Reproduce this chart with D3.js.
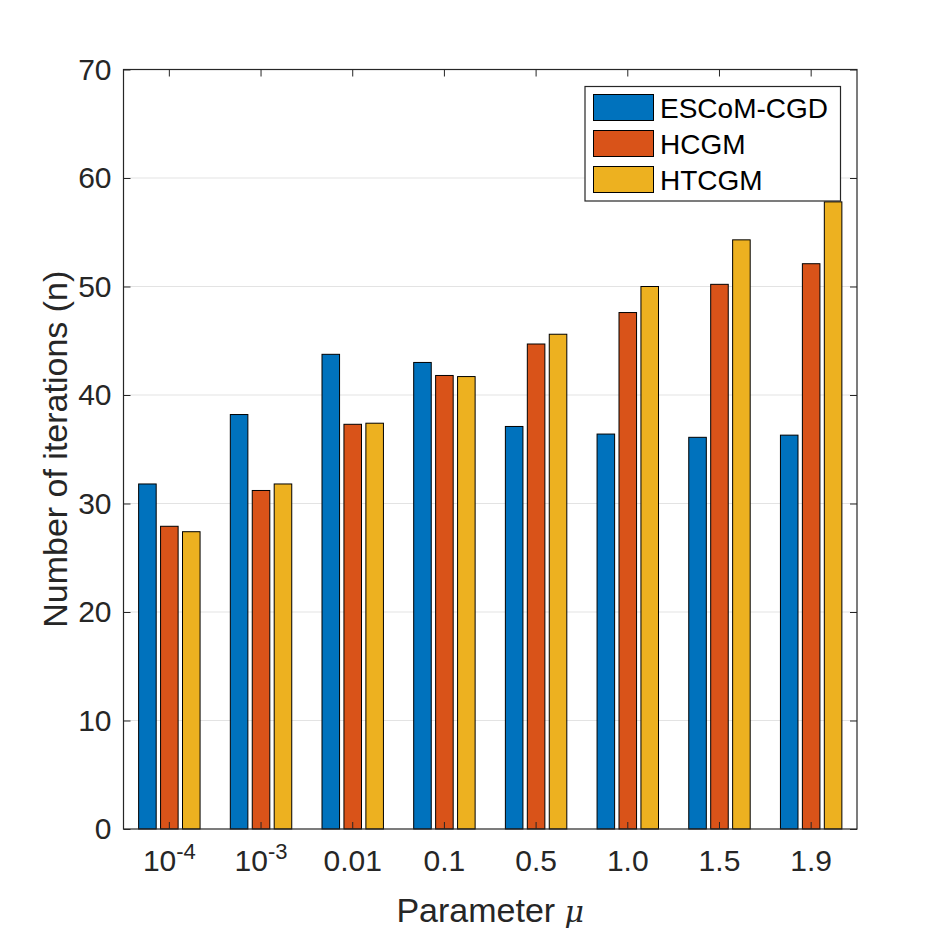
<!DOCTYPE html>
<html><head><meta charset="utf-8">
<script src="https://cdn.jsdelivr.net/npm/d3@7"></script>
<style>body{margin:0;background:#fff}</style>
</head><body>
<script>
const categories = ["1e-4","1e-3","0.01","0.1","0.5","1.0","1.5","1.9"];
const seriesNames = ["ESCoM-CGD","HCGM","HTCGM"];
const escom = [31.8, 38.2, 43.75, 43.0, 37.1, 36.4, 36.1, 36.3];
const hcgm  = [27.9, 31.2, 37.3, 41.8, 44.7, 47.6, 50.2, 52.1];
const htcgm = [27.4, 31.8, 37.4, 41.7, 45.6, 50.0, 54.3, 57.8];
const yTicks = [0,10,20,30,40,50,60,70];
const colors = ["#0072BD","#D95319","#EDB120"];
const seriesValues = [escom, hcgm, htcgm];

const W=946,H=932;
const L=123.5,R=857,T=69.5,B=829;
const font='"Liberation Sans", Arial, Helvetica, sans-serif';
const ink='#262626';

const svg=d3.select('body').append('svg').attr('width',W).attr('height',H);
const x=d3.scaleBand().domain(categories).range([L,R]).paddingInner(0).paddingOuter(0);
const xs=d3.scaleBand().domain(seriesNames).range([0,x.bandwidth()*0.67]).paddingInner(0.2);
const y=d3.scaleLinear().domain([0,70]).range([B,T]);

// grid
svg.append('g').selectAll('line').data(yTicks.filter(d=>d>0&&d<70)).join('line')
 .attr('x1',L).attr('x2',R).attr('y1',d=>y(d)).attr('y2',d=>y(d))
 .attr('stroke','#e3e3e3').attr('stroke-width',1);

// bars
const groupW=x.bandwidth()*0.67;
const data=[];
categories.forEach((c,i)=>seriesNames.forEach((s,j)=>data.push({c,s,j,v:seriesValues[j][i]})));
svg.append('g').selectAll('rect').data(data).join('rect')
 .attr('x',d=>x(d.c)+x.bandwidth()/2-groupW/2+xs(d.s))
 .attr('width',xs.bandwidth())
 .attr('y',d=>y(d.v)).attr('height',d=>y(0)-y(d.v))
 .attr('fill',d=>colors[d.j]).attr('stroke','#000').attr('stroke-width',1);

// axes frame
svg.append('rect').attr('x',L).attr('y',T).attr('width',R-L).attr('height',B-T)
 .attr('fill','none').attr('stroke',ink).attr('stroke-width',1.2);

// y ticks
const yAxisL=d3.axisLeft(y).tickValues(yTicks).tickSize(-7).tickPadding(12);
const gy=svg.append('g').attr('transform',`translate(${L},0)`).call(yAxisL);
gy.select('.domain').remove();
gy.selectAll('line').attr('stroke',ink);
gy.selectAll('text').attr('font-family',font).attr('font-size',30).attr('fill',ink);
const gyR=svg.append('g').attr('transform',`translate(${R},0)`).call(d3.axisRight(y).tickValues(yTicks).tickSize(-7).tickFormat(''));
gyR.select('.domain').remove();
gyR.selectAll('line').attr('stroke',ink);

// x ticks
const gx=svg.append('g').attr('transform',`translate(0,${B})`).call(d3.axisBottom(x).tickSize(-7).tickFormat(''));
gx.select('.domain').remove();
gx.selectAll('line').attr('stroke',ink);
const gxT=svg.append('g').attr('transform',`translate(0,${T})`).call(d3.axisTop(x).tickSize(-7).tickFormat(''));
gxT.select('.domain').remove();
gxT.selectAll('line').attr('stroke',ink);

// x tick labels
const xl=svg.append('g');
categories.forEach(c=>{
  const t=xl.append('text').attr('x',x(c)+x.bandwidth()/2).attr('y',B+42)
   .attr('text-anchor','middle').attr('font-family',font).attr('font-size',30).attr('fill',ink);
  if(c.startsWith('1e')){
    t.append('tspan').text('10');
    t.append('tspan').attr('font-size',22).attr('dy',-12).text(c.slice(2));
  } else t.text(c);
});

// axis labels
const xlab=svg.append('text').attr('x',(L+R)/2).attr('y',922).attr('text-anchor','middle')
 .attr('font-family',font).attr('font-size',34).attr('fill',ink);
xlab.append('tspan').text('Parameter ');
xlab.append('tspan').attr('font-family','"DejaVu Serif", serif').attr('font-style','italic').attr('font-size',30).text('μ');
svg.append('text').attr('transform',`translate(67,${(T+B)/2}) rotate(-90)`).attr('text-anchor','middle')
 .attr('font-family',font).attr('font-size',34).attr('fill',ink).text('Number of iterations (n)');

// legend
const lg=svg.append('g');
lg.append('rect').attr('x',585).attr('y',86.5).attr('width',255.5).attr('height',114.5)
 .attr('fill','#fff').attr('stroke',ink).attr('stroke-width',1.2);
seriesNames.forEach((s,i)=>{
  lg.append('rect').attr('x',593.5).attr('y',94.5+i*36).attr('width',60).attr('height',26)
   .attr('fill',colors[i]).attr('stroke','#000').attr('stroke-width',1);
  lg.append('text').attr('x',660).attr('y',117.5+i*36).attr('font-family',font).attr('font-size',28)
   .attr('fill','#000').text(s);
});
</script>
</body></html>
